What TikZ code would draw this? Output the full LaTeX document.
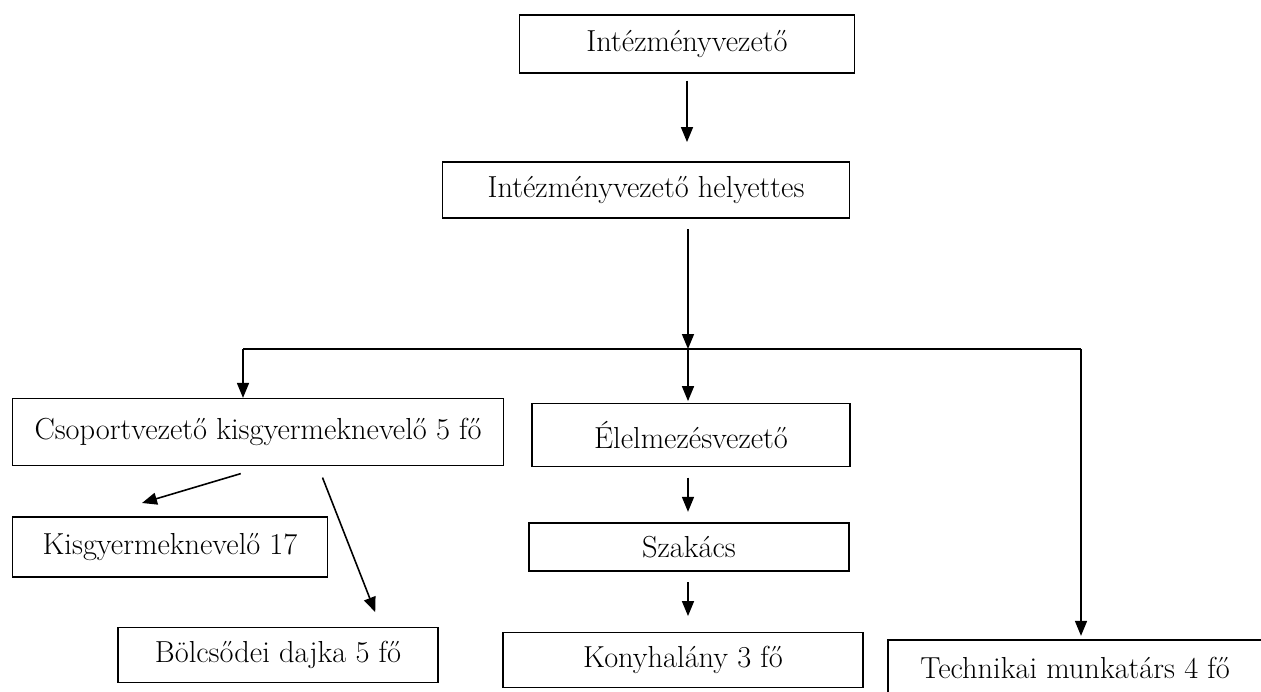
\documentclass[tikz,border=0pt]{standalone}
\usepackage{fontspec}
\usepackage{tikz}
\usetikzlibrary{arrows.meta,positioning}

\begin{document}
\begin{tikzpicture}[
      x=0.02cm, y=-0.02cm,
      box/.style={rectangle, draw, line width=0.7pt, inner sep=0pt, align=center, font=\fontsize{17.3}{20}\selectfont},
      arr/.style={-{Triangle[length=3mm, width=2.4mm]}, line width=0.9pt},
    ]
    \clip (0,0) rectangle (1261,692);
    \node[box, minimum width=6.7cm, minimum height=1.16cm] (top) at (687,44) {Intézményvezető};
    \node[box, minimum width=8.14cm, minimum height=1.12cm] (dep) at (646,190) {Intézményvezető helyettes};
    \node[box, minimum width=9.82cm, minimum height=1.34cm] (csop) at (258,432) {Csoportvezető kisgyermeknevelő 5 fő};
    \node[box, minimum width=6.36cm, minimum height=1.26cm] (elel) at (691,435) {Élelmezésvezető};
    \node[box, minimum width=6.3cm, minimum height=1.2cm] (kis) at (170,547) {Kisgyermeknevelő 17};
    \node[box, minimum width=6.4cm, minimum height=0.96cm] (szak) at (689,547) {Szakács};
    \node[box, minimum width=6.4cm, minimum height=1.1cm] (bolcs) at (278,655) {Bölcsődei dajka 5 fő};
    \node[box, minimum width=7.2cm, minimum height=1.1cm] (kony) at (683,660) {Konyhalány 3 fő};
    \node[box, minimum width=7.48cm, minimum height=1.12cm] (tech) at (1075,668) {Technikai munkatárs 4 fő};
    % branch line
    \coordinate (bl) at (243,349);
    \coordinate (bm) at (688,349);
    \coordinate (bR) at (1081,349);
    \coordinate (kisin) at (142,503);
    \draw[line width=0.9pt] (bl) -- (bR);
    \draw[arr, shorten <=4pt, shorten >=11pt] (top.south) -- (top.south |- dep.north);
    \draw[arr, shorten <=6pt] (dep.south -| bm) -- (bm);
    \draw[arr] (bl) -- (bl |- csop.north);
    \draw[arr, shorten >=1pt] (bm) -- (bm |- elel.north);
    \draw[arr, shorten >=2pt] (bR) -- (bR |- tech.north);
    \draw[arr, shorten <=6pt, shorten >=6pt] (elel.south -| bm) -- (bm |- szak.north);
    \draw[arr, shorten <=6pt, shorten >=9pt] (szak.south -| bm) -- (bm |- kony.north);
    \draw[arr, shorten <=15pt] (csop.south -| 266,0) -- (kisin);
    \draw[arr, shorten <=7pt, shorten >=9pt] (csop.south -| 318,0) -- (bolcs.north -| 381,0);
\end{tikzpicture}
\end{document}
